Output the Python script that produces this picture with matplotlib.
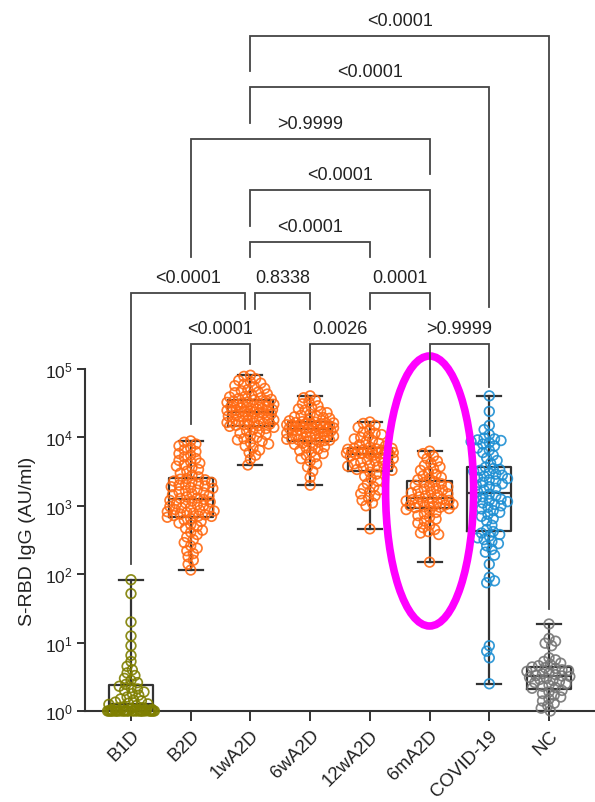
import numpy as np
import matplotlib
matplotlib.use("Agg")
import matplotlib.pyplot as plt
from matplotlib.patches import Ellipse

plt.rcParams['font.family'] = ['Liberation Sans', 'DejaVu Sans']
plt.rcParams['mathtext.fontset'] = 'custom'
plt.rcParams['mathtext.rm'] = 'Liberation Sans'
plt.rcParams['mathtext.it'] = 'Liberation Sans:italic'
plt.rcParams['mathtext.bf'] = 'Liberation Sans:bold'

# ---------------- data ----------------
groups = ["B1D", "B2D", "1wA2D", "6wA2D", "12wA2D", "6mA2D", "COVID-19", "NC"]
colors = ["#7f7f00", "#ff6a13", "#ff6a13", "#ff6a13", "#ff6a13", "#ff6a13", "#1e8fd3", "#767676"]

b1d = [83, 52, 20, 12.5, 9, 6.5, 5.3, 4.5, 4.0, 3.6, 3.3, 3.0, 2.8, 2.6, 2.45, 2.3, 2.2,
       2.1, 2.0, 1.9, 1.8, 1.7, 1.6, 1.5, 1.45, 1.4, 1.35, 1.3, 1.27, 1.25,
       1.2, 1.15, 1.12, 1.1, 1.08, 1.06, 1.05, 1.04, 1.03, 1.02,
       1.0, 1.0, 1.0, 1.0, 1.0, 1.0, 1.0, 1.0, 1.0, 1.0, 1.0, 1.0, 1.0,
       1.0, 1.0, 1.0, 1.0, 1.0, 1.0, 1.0, 1.0, 1.0, 1.0, 1.0, 1.0]
b2d = [8900, 8500, 8000, 7500, 7000, 6600, 6200, 5800, 5500, 5200, 4900, 4600, 4400, 4200,
       4000, 3800, 3600, 3400, 3200, 3000, 2800, 2650,
       2500, 2450, 2400, 2300, 2250, 2200, 2100, 2050, 2000, 1950, 1900, 1850, 1800, 1700,
       1650, 1600, 1550, 1500, 1450, 1400, 1350, 1300, 1280,
       1240, 1200, 1170, 1140, 1100, 1070, 1040, 1010, 980, 950, 930, 900, 880, 860, 840,
       820, 800, 780, 760, 740, 720, 710, 700,
       680, 650, 620, 590, 560, 530, 500, 470, 440, 410, 380, 350, 320, 290, 260, 240, 220,
       200, 180, 160, 140, 115]
w1a2d = [81000, 78000, 72000, 68000, 65000, 62000, 60000, 57000, 55000, 52000, 50000, 48000,
         46000, 45000, 43000, 42000, 40000, 39000, 38000, 37000, 36000, 35500,
         34500, 34000, 33000, 32500, 32000, 31000, 30500, 30000, 29000, 28500, 28000, 27500,
         27000, 26500, 26000, 25500, 25000, 24800, 24500, 24300, 24000, 23900, 23800,
         23500, 23000, 22500, 22000, 21500, 21000, 20500, 20000, 19500, 19000, 18500, 18000,
         17500, 17000, 16800, 16500, 16200, 16000, 15700, 15400, 15200, 15000, 14800,
         14500, 14000, 13500, 13000, 12500, 12000, 11500, 11000, 10500, 10000, 9600, 9200,
         8800, 8400, 8000, 7500, 7000, 6500, 6000, 5500, 4800, 3950]
w6a2d = [40500, 38000, 35000, 33000, 31000, 29000, 27500, 26000, 25000, 24000, 23000, 22000,
         21000, 20500, 20000, 19500, 19000, 18000, 17500, 17000,
         16700, 16500, 16300, 16100, 15900, 15700, 15500, 15300, 15100, 14900, 14700, 14500,
         14300, 14100, 13900, 13800, 13700, 13600, 13500, 13400,
         13200, 13000, 12700, 12400, 12100, 11800, 11500, 11200, 10900, 10600, 10400, 10200,
         10000, 9800, 9600, 9400, 9300, 9200, 9100, 9000,
         8800, 8500, 8200, 7900, 7600, 7300, 7000, 6700, 6400, 6100, 5800, 5500, 5200, 4900,
         4500, 4100, 3700, 3200, 2600, 2000]
w12a2d = [16800, 16000, 15000, 14000, 13000, 12000, 11500, 11000, 10500, 10000, 9500, 9000,
          8600, 8200, 7800, 7500, 7200,
          6950, 6900, 6800, 6700, 6600, 6500, 6400, 6300, 6200, 6100, 6050, 6000, 5950, 5900,
          5850, 5800, 5750, 5720,
          5650, 5500, 5300, 5100, 4900, 4700, 4500, 4300, 4200, 4100, 4000, 3900, 3800, 3700,
          3600, 3500, 3400, 3300,
          3100, 2900, 2700, 2500, 2300, 2100, 1900, 1800, 1700, 1600, 1500, 1400, 1300, 1200,
          1100, 1000, 460]
m6a2d = [6300, 5800, 5300, 4900, 4500, 4200, 3900, 3700, 3500, 3300, 3100, 2900, 2750, 2600,
         2500, 2400,
         2250, 2200, 2100, 2000, 1950, 1900, 1800, 1750, 1700, 1650, 1600, 1550, 1500, 1450,
         1400, 1350,
         1280, 1250, 1230, 1200, 1180, 1150, 1120, 1100, 1080, 1050, 1030, 1010, 990, 970,
         950, 940,
         910, 880, 850, 800, 760, 720, 680, 640, 600, 560, 520, 480, 450, 420, 400, 380, 150]
covid = [40500, 24000, 15000, 13000, 11000, 9800, 9500, 9200, 9000, 8700, 8400, 8000, 7500,
         7000, 6500, 6000, 5500, 5000, 4600, 4200,
         3650, 3500, 3400, 3300, 3200, 3000, 2900, 2800, 2700, 2600, 2500, 2400, 2300, 2200,
         2100, 2000, 1900, 1800, 1700, 1600,
         1480, 1400, 1350, 1300, 1250, 1200, 1150, 1100, 1050, 1000, 950, 900, 850, 800, 750,
         700, 650, 600, 520, 450,
         420, 400, 380, 360, 340, 320, 300, 280, 260, 230, 210, 190, 140, 90, 80, 75, 9, 7.5,
         6, 2.5]
nc = [18.7, 11.5, 10.5, 9.8, 9, 6, 5.6, 5.3, 5.0, 4.8, 4.6, 4.4, 4.3, 4.2, 4.0, 3.9, 3.8,
      3.6, 3.5, 3.4, 3.3, 3.25, 3.2, 3.1, 3.0, 2.9, 2.8, 2.7, 2.6, 2.5, 2.4, 2.3, 2.2, 2.15,
      2.0, 1.9, 1.8, 1.7, 1.6, 1.5, 1.4, 1.3, 1.2, 1.1, 1.0]
values = [b1d, b2d, w1a2d, w6a2d, w12a2d, m6a2d, covid, nc]

# box-and-whisker summaries (min to max whiskers)
box_min = [1.0, 115, 3950, 2000, 460, 150, 2.5, 1.0]
box_q1 = [1.0, 690, 14700, 8900, 3200, 930, 430, 2.1]
box_med = [1.26, 1260, 23700, 13300, 5700, 1300, 1540, 3.2]
box_q3 = [2.4, 2560, 35000, 16800, 7000, 2300, 3700, 4.4]
box_max = [83, 8900, 81000, 40500, 16800, 6300, 40500, 18.7]

# multiple-comparison p values
p_labels = ["<0.0001", "<0.0001", ">0.9999", "<0.0001", "<0.0001",
            "<0.0001", "0.8338", "0.0001", "<0.0001", "0.0026", ">0.9999"]
p_pairs = [(2, 7), (2, 6), (1, 5), (2, 5), (2, 4),
           (0, 2), (2, 3), (4, 5), (1, 2), (3, 4), (5, 6)]

# ---------------- figure ----------------
W, H, DPI = 595, 803, 100
fig = plt.figure(figsize=(W / DPI, H / DPI), dpi=DPI)
ax_left, ax_bottom, ax_top = 85, 712, 370
ax = fig.add_axes([ax_left / W, (H - ax_bottom) / H, (W - ax_left) / W, (ax_bottom - ax_top) / H])
ax.set_yscale('log')
ax.set_ylim(1, 1e5)
ax.set_xlim(-0.77, 7.77)

ink = "#333333"
txt = "#222222"
for side in ("top", "right"):
    ax.spines[side].set_visible(False)
for side in ("left", "bottom"):
    ax.spines[side].set_linewidth(1.5)
    ax.spines[side].set_color(ink)

ax.set_yticks([1, 10, 100, 1e3, 1e4, 1e5])
ax.set_yticklabels([r"$10^{%d}$" % k for k in range(6)], fontsize=12.5)
ax.yaxis.set_minor_locator(matplotlib.ticker.NullLocator())
ax.set_xticks(range(len(groups)))
ax.set_xticklabels(groups, rotation=45, ha='right', rotation_mode='anchor', fontsize=13.5)
ax.tick_params(axis='y', length=6, width=1.4, color=ink, pad=3, labelcolor=txt)
ax.tick_params(axis='x', length=7, width=1.4, color=ink, pad=4, labelcolor=txt)
ax.set_ylabel("S-RBD IgG (AU/ml)", fontsize=14, color=txt, labelpad=6)

# boxes
stats = [dict(med=box_med[i], q1=box_q1[i], q3=box_q3[i], whislo=box_min[i],
              whishi=box_max[i], fliers=[]) for i in range(len(groups))]
lp = dict(color=ink, linewidth=1.6)
ax.bxp(stats, positions=range(len(groups)), widths=0.74, capwidths=0.4, showfliers=False,
       boxprops=lp, whiskerprops=lp, capprops=lp, medianprops=lp, manage_ticks=False)

# swarm layout in pixel space
px_per_unit = ax.transData.transform((1, 1))[0] - ax.transData.transform((0, 1))[0]


def swarm(vals, min_dist=6.0, step=1.3, max_half=24):
    vals = np.asarray(vals, float)
    ypx = ax.transData.transform(np.column_stack([np.zeros(len(vals)), vals]))[:, 1]
    order = np.argsort(-ypx, kind='stable')
    cands = np.arange(0, max_half + 1e-9, step)
    placed_x, placed_y = [], []
    offs = np.zeros(len(vals))
    for n, i in enumerate(order):
        sign = 1 if n % 2 == 0 else -1
        best, best_d = 0.0, -1.0
        for c in cands:
            for cc in ((sign * c, -sign * c) if c > 0 else (0.0,)):
                if placed_x:
                    d = np.min(np.hypot(np.array(placed_x) - cc, np.array(placed_y) - ypx[i]))
                else:
                    d = np.inf
                if d >= min_dist:
                    best, best_d = cc, d
                    break
                if d > best_d:
                    best, best_d = cc, d
            if best_d >= min_dist:
                break
        offs[i] = best
        placed_x.append(best)
        placed_y.append(ypx[i])
    return offs / px_per_unit


for i, (vals, col) in enumerate(zip(values, colors)):
    xs = i + swarm(vals)
    ax.scatter(xs, vals, s=48, facecolors='none', edgecolors=col, linewidths=1.25,
               zorder=3, clip_on=False, alpha=0.9)

# ---------------- brackets & annotation overlay (pixel coordinates) ----------------
ov = fig.add_axes([0, 0, 1, 1], zorder=5)
ov.set_xlim(0, W)
ov.set_ylim(H, 0)
ov.axis('off')
ov.patch.set_alpha(0)

cx = [ax.transData.transform((i, 1))[0] for i in range(len(groups))]

# bracket line height, left/right leg ends, left/right horizontal nudges
bracket_layout = [
    (37, 72, 610, 0, 0),
    (88, 124, 308, 0, 0),
    (140, 258, 175, 0, 0),
    (191, 227, 258, 0, 0),
    (243, 258, 258, 0, 0),
    (294, 565, 310, 0, -5),
    (294, 310, 310, 5, 0),
    (294, 310, 310, 0, 0),
    (345, 425, 365, 0, 0),
    (345, 383, 407, 0, 0),
    (345, 437, 388, 0, 0),
]
bc = "#444444"
for (a, b), lab, (yl, ya, yb, da, db) in zip(p_pairs, p_labels, bracket_layout):
    xa, xb = cx[a] + da, cx[b] + db
    ov.plot([xa, xa, xb, xb], [ya, yl, yl, yb], color=bc, lw=1.3, solid_joinstyle='miter')
    ov.text((xa + xb) / 2, yl - 7, lab, ha='center', va='bottom', fontsize=13, color=txt)

ov.add_patch(Ellipse((cx[5], 492), 88, 270, fill=False, edgecolor="#ff00ff", lw=5.5))

fig.savefig("out.png", dpi=DPI)
